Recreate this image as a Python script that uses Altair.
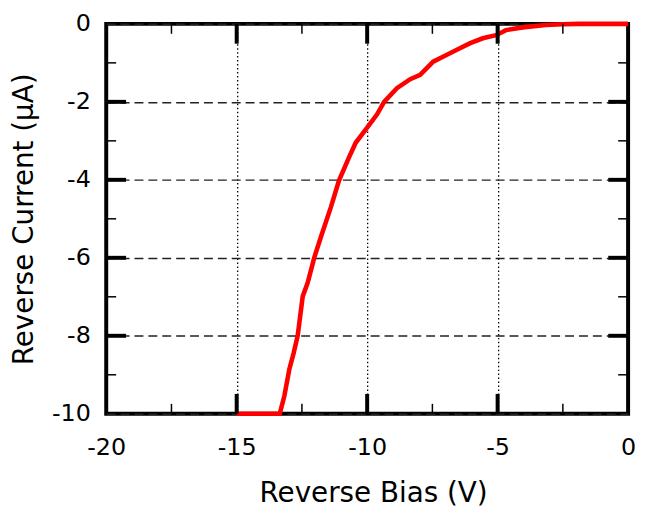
import altair as alt
import pandas as pd

# Curve
bias_v = [-15.0, -14.5, -14.0, -13.5, -13.35, -13.17, -12.98, -12.82, -12.66, -12.47,
          -12.28, -12.03, -11.77, -11.39, -11.08, -10.70, -10.44, -10.0, -9.62, -9.35,
          -8.86, -8.35, -7.97, -7.47, -6.96, -6.58, -6.07, -5.57, -5.06, -4.68,
          -4.04, -3.16, -2.5, -1.9, -1.0, 0.0]
current_ua = [-10.0, -10.0, -10.0, -10.0, -10.0, -9.53, -8.85, -8.45, -7.99, -6.99,
              -6.64, -6.0, -5.46, -4.70, -4.02, -3.43, -3.05, -2.66, -2.32, -2.0,
              -1.65, -1.42, -1.31, -0.97, -0.80, -0.67, -0.50, -0.37, -0.29, -0.16,
              -0.09, -0.03, -0.01, 0.0, 0.0, 0.0]

x_major = [-15, -10, -5]
x_minor = [-17.5, -12.5, -7.5, -2.5]
y_major = [-8, -6, -4, -2]
y_minor = [-9, -7, -5, -3, -1]
x_labels = [-20, -15, -10, -5, 0]
y_labels = [-10, -8, -6, -4, -2, 0]
x_title = "Reverse Bias (V)"
y_title = "Reverse Current (µA)"

W, H = 526, 393
FONT = "DejaVu Sans"

xs = alt.Scale(domain=[-20, 0], nice=False, zero=False)
ys = alt.Scale(domain=[-10, 0], nice=False, zero=False)

df = pd.DataFrame({"bias": bias_v, "cur": current_ua})

line = alt.Chart(df).mark_line(color="#ff0000", strokeWidth=4.6).encode(
    x=alt.X("bias:Q", scale=xs, title=x_title, axis=alt.Axis(
        values=x_labels, grid=True, gridDash=[1.5, 2.5],
        gridColor="#000000", gridWidth=1.3, domain=False, ticks=False, tickSize=0,
        labelExpr="'' + datum.value",
        labelPadding=41, labelBaseline="alphabetic", labelFontSize=24, labelFont=FONT,
        labelColor="#000000", titleFont=FONT, titleFontSize=28, titleFontWeight="normal",
        titleColor="#000000", titleBaseline="alphabetic", titleY=88, titleX=269,
        labelFlush=False)),
    y=alt.Y("cur:Q", scale=ys, title=y_title, axis=alt.Axis(
        values=y_labels, grid=True, gridDash=[9, 5],
        gridColor="#222222", gridWidth=1.5, domain=False, ticks=False, tickSize=0,
        labelExpr="'' + datum.value",
        labelPadding=16, labelFontSize=24, labelFont=FONT, labelColor="#000000",
        titleFont=FONT, titleFontSize=28, titleFontWeight="normal", titleColor="#000000",
        titleBaseline="alphabetic", titleX=-74, titleY=H / 2, titleAngle=270,
        labelFlush=False)),
    order=alt.Order("bias:Q"),
)

def vticks(vals, length, width):
    d = pd.DataFrame({"bias": vals})
    bottom = alt.Chart(d).mark_rule(color="black", strokeWidth=width).encode(
        x=alt.X("bias:Q", scale=xs, title=x_title), y=alt.value(H), y2=alt.value(H - length))
    top = alt.Chart(d).mark_rule(color="black", strokeWidth=width).encode(
        x=alt.X("bias:Q", scale=xs, title=x_title), y=alt.value(0), y2=alt.value(length))
    return [bottom, top]

def hticks(vals, length, width):
    d = pd.DataFrame({"cur": vals})
    left = alt.Chart(d).mark_rule(color="black", strokeWidth=width).encode(
        y=alt.Y("cur:Q", scale=ys, title=y_title), x=alt.value(0), x2=alt.value(length))
    right = alt.Chart(d).mark_rule(color="black", strokeWidth=width).encode(
        y=alt.Y("cur:Q", scale=ys, title=y_title), x=alt.value(W), x2=alt.value(W - length))
    return [left, right]

tick_layers = (vticks(x_major, 20, 4) + vticks(x_minor, 10, 1.5)
               + hticks(y_major, 20, 4) + hticks(y_minor, 10, 1.5))

chart = alt.layer(line, *tick_layers).properties(
    width=W, height=H,
    autosize=alt.AutoSizeParams(type="none"),
    padding={"left": 99, "top": 14, "right": 12, "bottom": 96},
    background="white",
).configure_view(stroke="#000000", strokeWidth=4, fill="white")

chart.save("out.html", embed_options={"renderer": "svg", "actions": False})
